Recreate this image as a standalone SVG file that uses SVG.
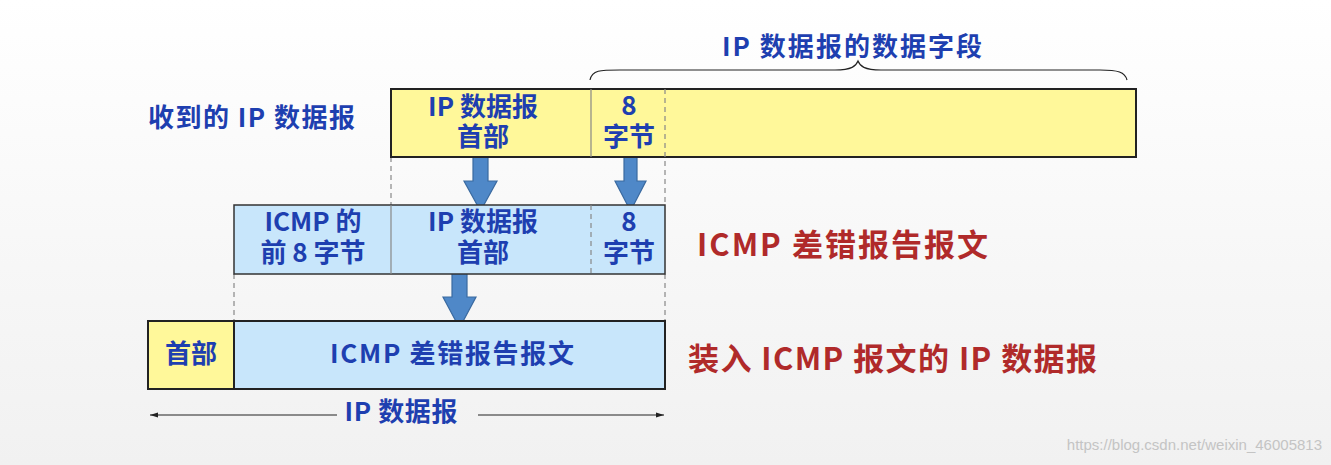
<svg xmlns="http://www.w3.org/2000/svg" width="1331" height="465" viewBox="0 0 1331 465">
<defs>
<linearGradient id="bg" x1="0" y1="0" x2="0" y2="1">
<stop offset="0" stop-color="#ffffff"/>
<stop offset="1" stop-color="#f1f1f1"/>
</linearGradient>
<marker id="ah" viewBox="0 0 10 10" refX="10" refY="5" markerWidth="8" markerHeight="8" orient="auto-start-reverse" markerUnits="userSpaceOnUse">
<path d="M0,2 L10,5 L0,8 z" fill="#222"/>
</marker>
<style>
text{font-family:"Noto Sans CJK SC","Liberation Sans",sans-serif;font-weight:bold;}
.b{fill:#1e3fb0;font-size:26px;text-anchor:middle;}
.r{fill:#b02a2a;font-size:31px;}
.lab{fill:#1e3fb0;font-size:26px;}
.yel{fill:#fff89a;stroke:#222;stroke-width:2;}
.blu{fill:#c8e6fb;stroke:#333;stroke-width:1.5;}
.div{stroke:#888;stroke-width:1.2;}
.dash{stroke:#888;stroke-width:1.2;stroke-dasharray:5,4;fill:none;}
.arr{fill:#4f88c8;stroke:#3a6aa0;stroke-width:1.2;}
.thin{stroke:#222;stroke-width:1.2;fill:none;}
</style>
</defs>
<rect x="0" y="0" width="1331" height="465" fill="url(#bg)"/>

<g id="connectors">
<path class="thin" d="M590,80 C592,70 600,70 620,70 L835,70 C852,70 856,66 858,61 C860,66 864,70 881,70 L1100,70 C1118,70 1125,72 1127,80"/>
<line class="dash" x1="391" y1="157" x2="391" y2="205"/>
<line class="dash" x1="665" y1="89" x2="665" y2="205"/>
<line class="dash" x1="234" y1="274" x2="234" y2="321"/>
<line class="dash" x1="665" y1="274" x2="665" y2="321"/>
<path class="arr" d="M473,154 L488,154 L488,181 L497,181 L480.5,211 L464,181 L473,181 z"/>
<path class="arr" d="M624,154 L637,154 L637,181 L646,181 L630.5,211 L615,181 L624,181 z"/>
<path class="arr" d="M452,271 L467,271 L467,297 L476,297 L459.5,328 L443,297 L452,297 z"/>
<line class="thin" x1="150" y1="415" x2="337" y2="415" marker-start="url(#ah)"/>
<line class="thin" x1="478" y1="415" x2="664" y2="415" marker-end="url(#ah)"/>
</g>

<g id="title-data-field">
<text class="lab" x="852" y="56" text-anchor="middle" textLength="260" lengthAdjust="spacing">IP 数据报的数据字段</text>
</g>

<g id="label-received">
<text class="lab" x="148" y="127" textLength="207" lengthAdjust="spacing">收到的 IP 数据报</text>
</g>

<g id="received-datagram">
<rect class="yel" x="391" y="89" width="745" height="68"/>
<line class="div" x1="591" y1="89" x2="591" y2="157"/>
<line class="dash" x1="665" y1="89" x2="665" y2="157"/>
<text class="b" x="483" y="116">IP 数据报</text>
<text class="b" x="483" y="146">首部</text>
<text class="b" x="629" y="115">8</text>
<text class="b" x="629" y="146">字节</text>
</g>

<g id="icmp-error-message">
<rect class="blu" x="234" y="205" width="431" height="69"/>
<line class="div" x1="391" y1="205" x2="391" y2="274"/>
<line class="dash" x1="591" y1="205" x2="591" y2="274"/>
<text class="b" x="313" y="231">ICMP 的</text>
<text class="b" x="313" y="262">前 8 字节</text>
<text class="b" x="483" y="231">IP 数据报</text>
<text class="b" x="483" y="262">首部</text>
<text class="b" x="629" y="231">8</text>
<text class="b" x="629" y="262">字节</text>
</g>

<g id="label-icmp">
<text class="r" x="697" y="256" textLength="291" lengthAdjust="spacing">ICMP 差错报告报文</text>
</g>

<g id="ip-datagram-with-icmp">
<rect class="yel" x="148" y="321" width="86" height="68"/>
<rect class="blu" x="234" y="321" width="431" height="68" style="stroke:#222;stroke-width:2"/>
<text class="b" x="191" y="363">首部</text>
<text class="b" x="452" y="363" textLength="244" lengthAdjust="spacing">ICMP 差错报告报文</text>
</g>

<g id="label-encapsulated">
<text class="r" x="688" y="370" textLength="409" lengthAdjust="spacing">装入 ICMP 报文的 IP 数据报</text>
</g>

<g id="label-ip-datagram">
<text class="b" x="401" y="421" textLength="113" lengthAdjust="spacing">IP 数据报</text>
</g>

<text x="1322" y="450" text-anchor="end" style="font-family:'Liberation Sans',sans-serif;font-weight:normal;font-size:15px;fill:#c4c4c4">https://blog.csdn.net/weixin_46005813</text>
</svg>
